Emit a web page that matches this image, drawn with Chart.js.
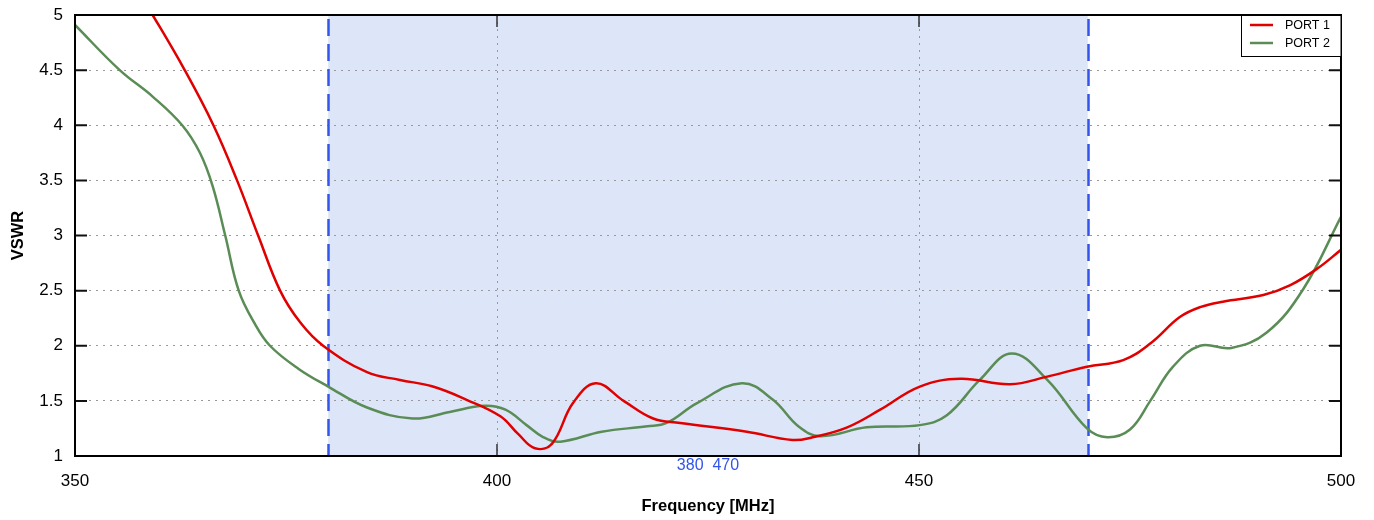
<!DOCTYPE html>
<html>
<head>
<meta charset="utf-8">
<script src="https://cdn.jsdelivr.net/npm/chart.js@4.4.0/dist/chart.umd.min.js"></script>
<style>
  html, body { margin: 0; padding: 0; background: #fff; }
  #wrap { width: 1374px; height: 520px; }
</style>
</head>
<body>
<div id="wrap"><canvas id="vswr" width="1374" height="520"></canvas></div>
<script>
// values (MHz / VSWR)
const port1Freq = [356, 359.2, 363, 366.4, 369.2, 371.7, 374.3, 376.7, 379.4, 384.6, 388.5, 392.4, 396.4, 400.4, 402.5, 404.5, 406.5, 409, 411.7, 415, 418.5, 421.7, 429.6, 435, 437.4, 441.5, 445.4, 450.1, 454.9, 460.8, 465.2, 469.9, 474.2, 477.4, 480.9, 483.3, 486, 490.8, 494, 497.2, 500];
const port1Vswr = [5.4, 5.0, 4.5, 4.0, 3.5, 3.0, 2.5, 2.21, 2.0, 1.76, 1.69, 1.63, 1.51, 1.36, 1.20, 1.07, 1.11, 1.48, 1.66, 1.50, 1.34, 1.30, 1.22, 1.145, 1.17, 1.26, 1.42, 1.63, 1.70, 1.65, 1.72, 1.81, 1.87, 2.02, 2.26, 2.35, 2.40, 2.46, 2.55, 2.70, 2.87];
const port2Freq = [350, 355.3, 359.2, 362.7, 364.8, 366.3, 367.8, 369.4, 371.3, 373.1, 376.5, 380, 384.6, 390, 394.4, 398.5, 401, 403.5, 405.5, 407.5, 412.4, 417.8, 420.1, 423.7, 429, 432.7, 435.7, 438.3, 443.8, 450.1, 453.3, 457.2, 461, 465.2, 469.9, 472.3, 475, 477.4, 480.1, 483.3, 487, 491.2, 495.5, 500];
const port2Vswr = [4.91, 4.5, 4.26, 4.0, 3.75, 3.45, 3.0, 2.5, 2.2, 2.0, 1.79, 1.63, 1.44, 1.34, 1.40, 1.455, 1.42, 1.28, 1.17, 1.13, 1.22, 1.27, 1.30, 1.48, 1.66, 1.51, 1.27, 1.18, 1.26, 1.28, 1.37, 1.69, 1.93, 1.69, 1.25, 1.17, 1.24, 1.5, 1.81, 2.0, 1.98, 2.12, 2.51, 3.17];
const seriesNames = ['PORT 1', 'PORT 2'];
const xTickValues = [350, 400, 450, 500];
const yTickValues = [1, 1.5, 2, 2.5, 3, 3.5, 4, 4.5, 5];
const bandEdges = [380, 470];
const bandText = '380  470';
const bandTextAt = 425;

const RED = '#e00000';
const GREEN = '#5a8c55';
const BLUE = '#3355ee';
const FONT = '"Liberation Sans", Arial, Helvetica, sans-serif';

const toPoints = (xs, ys) => xs.map((x, i) => ({ x: x, y: ys[i] }));

const decor = {
  id: 'decor',
  beforeDraw(chart) {
    const { ctx, chartArea: a, scales: { x } } = chart;
    const x0 = x.getPixelForValue(bandEdges[0]);
    const x1 = x.getPixelForValue(bandEdges[1]);
    ctx.save();
    ctx.fillStyle = '#dde6f8';
    ctx.fillRect(x0, a.top, x1 - x0, a.bottom - a.top);
    ctx.restore();
  },
  beforeDatasetsDraw(chart) {
    const { ctx, chartArea: a, scales: { x } } = chart;
    ctx.save();
    ctx.strokeStyle = BLUE;
    ctx.lineWidth = 2.5;
    ctx.setLineDash([17, 8]);
    bandEdges.forEach(v => {
      const px = Math.round(x.getPixelForValue(v)) + 0.5;
      ctx.beginPath();
      ctx.moveTo(px, a.top + 4);
      ctx.lineTo(px, a.bottom);
      ctx.stroke();
    });
    ctx.restore();
  },
  afterDraw(chart) {
    const { ctx, chartArea: a, scales: { x, y } } = chart;
    ctx.save();
    // inner tick marks
    ctx.strokeStyle = '#111';
    ctx.lineWidth = 2;
    yTickValues.slice(1, -1).forEach(v => {
      const py = y.getPixelForValue(v);
      ctx.beginPath();
      ctx.moveTo(a.left, py); ctx.lineTo(a.left + 12, py);
      ctx.moveTo(a.right, py); ctx.lineTo(a.right - 12, py);
      ctx.stroke();
    });
    ctx.strokeStyle = '#333';
    ctx.lineWidth = 1.5;
    xTickValues.slice(1, -1).forEach(v => {
      const px = x.getPixelForValue(v);
      ctx.beginPath();
      ctx.moveTo(px, a.bottom); ctx.lineTo(px, a.bottom - 12);
      ctx.moveTo(px, a.top); ctx.lineTo(px, a.top + 12);
      ctx.stroke();
    });
    // frame
    ctx.strokeStyle = '#000';
    ctx.lineWidth = 2;
    ctx.strokeRect(a.left, a.top, a.right - a.left, a.bottom - a.top);

    // band label under the axis
    ctx.fillStyle = BLUE;
    ctx.font = '16px ' + FONT;
    ctx.textAlign = 'center';
    ctx.textBaseline = 'middle';
    ctx.fillText(bandText, x.getPixelForValue(bandTextAt), a.bottom + 10);

    // legend box
    const lx = a.right - 100, ly = a.top, lw = 100, lh = 41;
    ctx.fillStyle = '#fff';
    ctx.fillRect(lx, ly, lw, lh);
    ctx.strokeStyle = '#000';
    ctx.lineWidth = 1;
    ctx.strokeRect(lx + 0.5, ly + 0.5, lw - 0.5, lh);
    ctx.font = '12.5px ' + FONT;
    ctx.textAlign = 'left';
    [RED, GREEN].forEach((c, i) => {
      const ry = ly + 10 + i * 18;
      ctx.strokeStyle = c;
      ctx.lineWidth = 2.5;
      ctx.beginPath();
      ctx.moveTo(lx + 9, ry); ctx.lineTo(lx + 32, ry);
      ctx.stroke();
      ctx.fillStyle = '#000';
      ctx.fillText(seriesNames[i], lx + 44, ry + 1);
    });
    ctx.restore();
  }
};

new Chart(document.getElementById('vswr'), {
  type: 'line',
  data: {
    datasets: [
      { label: seriesNames[0], data: toPoints(port1Freq, port1Vswr), borderColor: RED, borderWidth: 2.5, pointRadius: 0, tension: 0.4, fill: false },
      { label: seriesNames[1], data: toPoints(port2Freq, port2Vswr), borderColor: GREEN, borderWidth: 2.5, pointRadius: 0, tension: 0.4, fill: false }
    ]
  },
  options: {
    responsive: false,
    animation: false,
    devicePixelRatio: 1,
    layout: { padding: { left: 0, right: 33, top: 15, bottom: 0 } },
    plugins: { legend: { display: false }, tooltip: { enabled: false } },
    scales: {
      x: {
        type: 'linear', min: 350, max: 500,
        afterBuildTicks: s => { s.ticks = xTickValues.map(v => ({ value: v })); },
        afterFit: s => { s.height = 64; s.paddingLeft = 0; s.paddingRight = 0; },
        grid: { color: '#999', lineWidth: 1, drawTicks: false },
        border: { display: false, dash: [2, 5] },
        ticks: { color: '#000', padding: 15, font: { family: FONT, size: 17 }, maxRotation: 0, callback: v => String(v) },
        title: { display: true, text: 'Frequency [MHz]', color: '#000', font: { family: FONT, size: 16.5, weight: 'bold' }, padding: { top: 0, bottom: 4 } }
      },
      y: {
        type: 'linear', min: 1, max: 5,
        afterBuildTicks: s => { s.ticks = yTickValues.map(v => ({ value: v })); },
        afterFit: s => { s.width = 75; s.paddingTop = 0; s.paddingBottom = 0; },
        grid: { color: '#999', lineWidth: 1, drawTicks: false },
        border: { display: false, dash: [2, 5] },
        ticks: { color: '#000', padding: 12, font: { family: FONT, size: 17 }, callback: v => String(v) },
        title: { display: true, text: 'VSWR', color: '#000', font: { family: FONT, size: 16.5, weight: 'bold' }, padding: { top: 9, bottom: 0 } }
      }
    }
  },
  plugins: [decor]
});
</script>
</body>
</html>
